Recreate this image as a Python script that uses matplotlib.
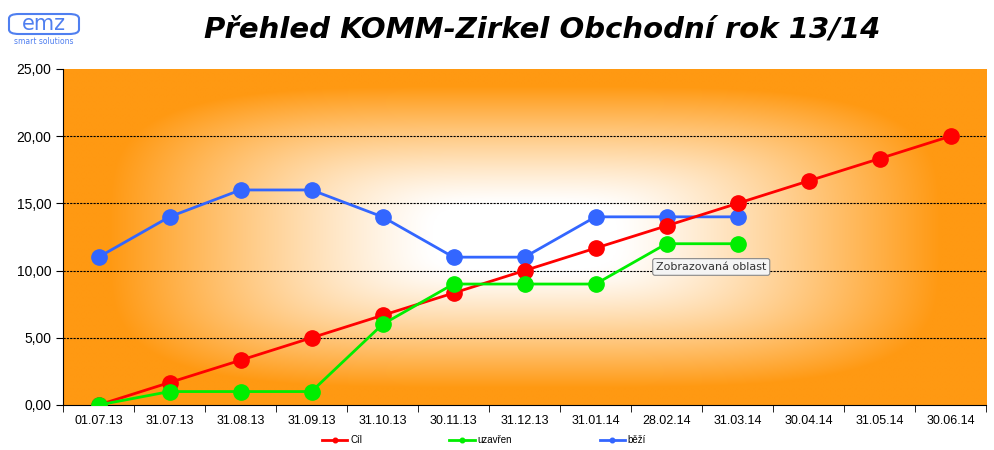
import numpy as np
import matplotlib
matplotlib.use("Agg")
import matplotlib.pyplot as plt
from matplotlib.patches import FancyBboxPatch
from matplotlib.colors import to_rgb

categories = ["01.07.13", "31.07.13", "31.08.13", "31.09.13", "31.10.13", "30.11.13",
              "31.12.13", "31.01.14", "28.02.14", "31.03.14", "30.04.14", "31.05.14", "30.06.14"]
cil = [0, 1.67, 3.33, 5.0, 6.67, 8.33, 10.0, 11.67, 13.33, 15.0, 16.67, 18.33, 20.0]
uzavren = [0, 1, 1, 1, 6, 9, 9, 9, 12, 12]
bezi = [11, 14, 16, 16, 14, 11, 11, 14, 14, 14]
yticks = [0, 5, 10, 15, 20, 25]

W, H = 994, 450
fig = plt.figure(figsize=(W / 100, H / 100), dpi=100)
ax = fig.add_axes([63 / W, 1 - 405 / H, (986 - 63) / W, (405 - 69) / H])

# gradient background (soft rectangle from centre)
ny, nx = 300, 800
u = np.linspace(-1, 1, nx)[None, :]
v = np.linspace(-1, 1, ny)[:, None]
p = 4.0
t = (np.abs(u) ** p + np.abs(v) ** p) ** (1 / p)
t = np.clip((t - 0.2) / 0.7, 0, 1) ** 1.2
orange = np.array(to_rgb("#ff9912"))
white = np.array([1, 1, 1])
img = white[None, None, :] * (1 - t[..., None]) + orange[None, None, :] * t[..., None]
n = len(categories)
ax.imshow(img, extent=[-0.5, n - 0.5, 0, 25], aspect="auto", zorder=0, interpolation="bilinear")

x = np.arange(n)
l1, = ax.plot(x[:len(cil)], cil, color="#ff0000", lw=2, marker="o", ms=11, zorder=3, label="Cíl")
l2, = ax.plot(x[:len(uzavren)], uzavren, color="#00ee00", lw=2, marker="o", ms=11, zorder=4, label="uzavřen")
l3, = ax.plot(x[:len(bezi)], bezi, color="#3366ff", lw=2, marker="o", ms=11, zorder=2, label="běží")

ax.set_xlim(-0.5, n - 0.5)
ax.set_ylim(0, 25)
ax.set_yticks(yticks)
ax.set_yticklabels([f"{v:.2f}".replace(".", ",") for v in yticks], fontsize=10,
                   family="Liberation Sans")
ax.set_xticks(x)
ax.set_xticklabels(categories, fontsize=9, family="Liberation Sans")
ax.set_xticks(np.arange(-0.5, n, 1), minor=True)
ax.tick_params(axis="x", which="major", length=0, pad=7)
ax.tick_params(axis="x", which="minor", length=5, direction="out")
ax.tick_params(axis="y", length=5, direction="out")
for yv in yticks[1:-1]:
    ax.axhline(yv, color="black", lw=0.8, ls=(0, (2, 1)), zorder=1)
for s in ["top", "right"]:
    ax.spines[s].set_visible(False)

fig.legend(handles=[l1, l2, l3], loc="center", bbox_to_anchor=(0.487, 1 - 440 / H),
           ncol=3, frameon=False, columnspacing=9, handlelength=2.6, handletextpad=0.3,
           markerscale=0.3, prop={"family": "Liberation Sans", "size": 7})

# tooltip
ax.text(8.63, 10.27, "Zobrazovaná oblast", fontsize=8, family="DejaVu Sans", color="#333333",
        ha="center", va="center", zorder=6,
        bbox=dict(boxstyle="round,pad=0.3,rounding_size=0.2", fc="#f4f4f4", ec="#888888", lw=0.8))

# title
fig.text(0.545, 1 - 29 / H, "Přehled KOMM-Zirkel Obchodní rok 13/14", fontsize=21,
         fontweight="bold", fontstyle="italic", ha="center", va="center", family="DejaVu Sans")

# logo
logo = FancyBboxPatch((9 / W, 1 - 34 / H), 70 / W, 20 / H, boxstyle="round,pad=0,rounding_size=0.01",
                      transform=fig.transFigure, fc="none", ec="#4f7ff0", lw=1.5)
fig.patches.append(logo)
fig.text(44 / W, 1 - 24 / H, "emz", fontsize=15, color="#4f7ff0", ha="center", va="center",
         family="DejaVu Sans")
fig.text(44 / W, 1 - 42 / H, "smart solutions", fontsize=5.5, color="#4f7ff0", ha="center",
         va="center", family="DejaVu Sans")

fig.savefig("out.png", dpi=100)
